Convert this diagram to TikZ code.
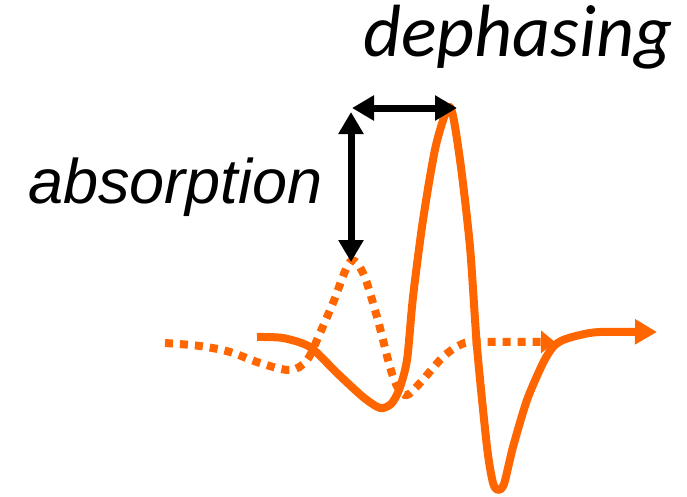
\documentclass[tikz,border=0pt]{standalone}
\usepackage{fontspec}
\setmainfont{Liberation Sans}
\newfontfamily\calib{Carlito}
\usetikzlibrary{arrows.meta}
\definecolor{wave}{RGB}{255,102,0}
\tikzset{
  blackarrow/.style={line width=7pt, black, {Triangle[length=22pt,width=24pt]}-{Triangle[length=22pt,width=24pt]}, shorten <=0pt, shorten >=0pt},
  solidwave/.style={line width=8pt, wave, line join=round, -{Triangle[length=22pt,width=24pt]}},
  dotwave/.style={line width=8pt, wave, dash pattern=on 8pt off 7pt, -{Triangle[length=14pt,width=22pt]}},
  lbl/.style={inner sep=0pt, anchor=base west, font=\fontsize{63}{70}\selectfont\itshape}
}
\begin{document}
\begin{tikzpicture}[x=1pt,y=-1pt]
\useasboundingbox (0,0) rectangle (687,496);
\node[lbl] (abs) at (28,203) {absorption};
\node[lbl, font=\fontsize{74}{80}\selectfont\calib\itshape] (deph) at (363,56) {dephasing};
\coordinate (dtop) at (351,112);
\coordinate (dpeak) at (351,262);
\coordinate (hleft) at (352,108);
\coordinate (peak) at (457,108);
\draw[dotwave] plot[smooth, tension=0.55] coordinates {(165,343) (200,346) (230,352) (260,363) (290,370) (307,360) (320,333) (333,303) (350,262) (363,273) (377,317) (390,367) (398,388) (407,395) (420,383) (443,357) (462,344) (480,342) (555,342)};
\draw[solidwave] plot[smooth, tension=0.45] coordinates {(257,337) (283,338) (310,347) (337,373) (363,397) (380,408) (391,404) (399,390) (407,360) (413,297) (423,220) (436,145) (450,107) (460,160) (470,247) (477,347) (487,447) (493,483) (498,490) (504,484) (513,447) (527,400) (543,363) (553,347) (563,340) (580,335) (600,332) (657,332)};
\draw[blackarrow] (dtop) -- (dpeak);
\draw[blackarrow] (hleft) -- (peak);
\end{tikzpicture}
\end{document}
